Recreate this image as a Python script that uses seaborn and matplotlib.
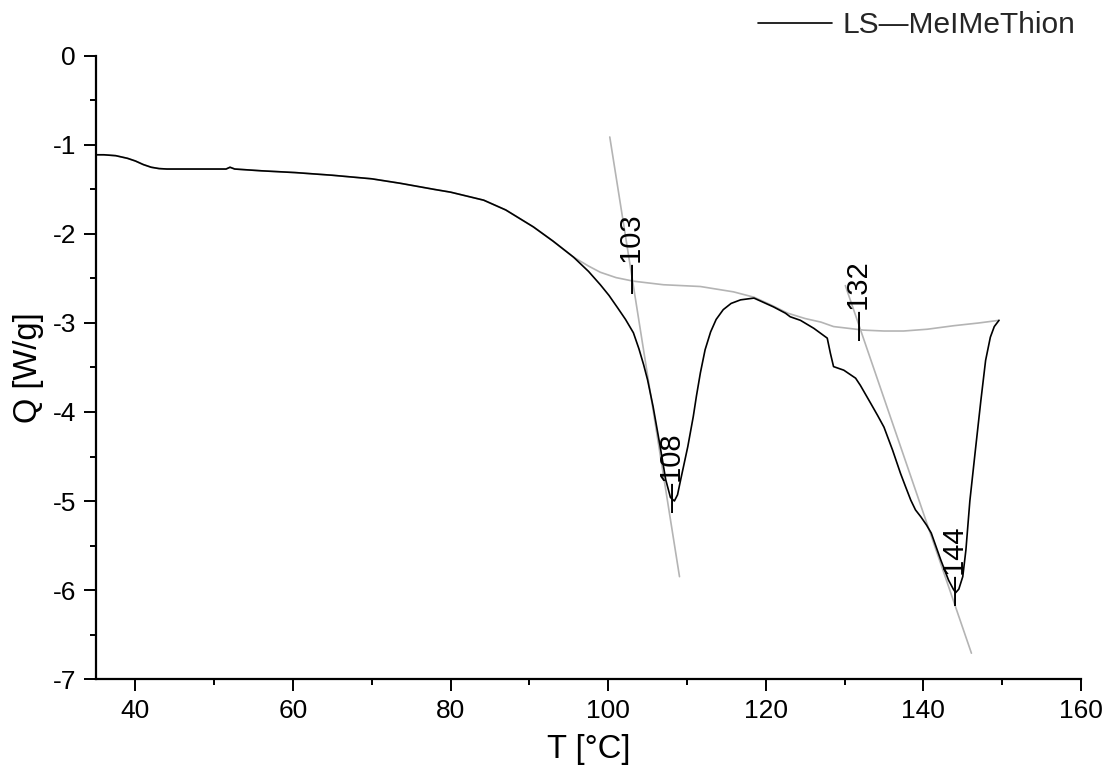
import pandas as pd
import matplotlib
import matplotlib.pyplot as plt
import seaborn as sns
from matplotlib.ticker import MultipleLocator

matplotlib.use("Agg")
sns.set_theme(style="ticks")
plt.rcParams["font.family"] = ["Liberation Sans", "DejaVu Sans"]
plt.rcParams["axes.unicode_minus"] = False

# DSC curve (measured)
temp = [35.0, 36.0, 37.5, 39.0, 40.0, 41.0, 42.0, 43.0, 44.0, 48.0, 51.5, 52.0,
        52.6, 56.0, 60.3, 65.0, 70.0, 73.6, 78.0, 80.0, 84.2, 87.0, 90.5, 93.0,
        95.6, 97.5, 99.0, 100.1, 101.2, 102.2, 103.2, 103.9, 104.5, 105.0, 105.7,
        106.6, 107.3, 107.9, 108.4, 108.8, 109.2, 110.1, 110.8, 111.2, 111.7,
        112.3, 113.0, 113.7, 114.6, 115.6, 116.8, 118.5, 121.0, 122.5, 123.1,
        124.4, 126.1, 127.8, 128.2, 128.6, 129.9, 131.4, 132.0, 133.3, 134.2,
        135.0, 136.1, 137.1, 137.7, 138.4, 139.0, 139.7, 140.4, 141.0, 142.2,
        143.2, 143.8, 144.1, 144.5, 145.0, 145.4, 145.9, 146.6, 147.3, 147.9,
        148.5, 149.0, 149.6]
heat = [-1.11, -1.11, -1.12, -1.15, -1.18, -1.22, -1.25, -1.265, -1.27, -1.27,
        -1.27, -1.25, -1.27, -1.29, -1.31, -1.34, -1.38, -1.43, -1.50, -1.53,
        -1.62, -1.73, -1.92, -2.08, -2.26, -2.42, -2.57, -2.69, -2.83, -2.96,
        -3.11, -3.29, -3.47, -3.64, -3.94, -4.39, -4.76, -4.96, -5.00, -4.93,
        -4.76, -4.39, -4.05, -3.82, -3.56, -3.30, -3.10, -2.96, -2.85, -2.78,
        -2.74, -2.72, -2.82, -2.89, -2.93, -2.97, -3.06, -3.17, -3.34, -3.49,
        -3.53, -3.62, -3.70, -3.90, -4.04, -4.17, -4.43, -4.69, -4.83, -4.99,
        -5.10, -5.18, -5.27, -5.36, -5.66, -5.89, -5.99, -6.03, -5.99, -5.85,
        -5.55, -5.00, -4.43, -3.87, -3.42, -3.16, -3.04, -2.97]

# Baseline (grey)
base_t = [35.0, 36.0, 37.5, 39.0, 40.0, 41.0, 42.0, 43.0, 44.0, 48.0, 51.5, 52.0,
          52.6, 56.0, 60.3, 65.0, 70.0, 73.6, 78.0, 80.0, 84.2, 87.0, 90.5, 93.0,
          95.6, 97.5, 99.0, 101.0, 103.2, 107.0, 111.7, 115.9, 118.5, 120.5,
          122.8, 125.0, 127.0, 128.6, 130.5, 132.4, 135.0, 137.5, 140.5, 143.9,
          147.0, 149.6]
base_q = [-1.11, -1.11, -1.12, -1.15, -1.18, -1.22, -1.25, -1.265, -1.27, -1.27,
          -1.27, -1.25, -1.27, -1.29, -1.31, -1.34, -1.38, -1.43, -1.50, -1.53,
          -1.62, -1.73, -1.92, -2.08, -2.26, -2.36, -2.43, -2.49, -2.53, -2.57,
          -2.59, -2.65, -2.71, -2.79, -2.89, -2.95, -2.99, -3.04, -3.06, -3.08,
          -3.09, -3.09, -3.07, -3.03, -3.00, -2.97]

# Tangent lines
tan1_t = [100.2, 109.05]
tan1_q = [-0.91, -5.85]
tan2_t = [130.1, 146.1]
tan2_q = [-2.58, -6.71]

# Peak labels
peak_t = [103.1, 108.2, 132.0, 144.1]
peak_q = [-2.66, -5.12, -3.19, -6.17]
peak_lbl = ["103", "108", "132", "144"]

fig = plt.figure(figsize=(11.13, 7.81), dpi=100)
ax = fig.add_axes([0.0863, 0.1306, 0.8849, 0.7977])

grey = "#b4b4b4"
sns.lineplot(x=base_t, y=base_q, sort=False, color=grey, lw=1.2, ax=ax)
sns.lineplot(x=tan1_t, y=tan1_q, sort=False, color=grey, lw=1.2, ax=ax)
sns.lineplot(x=tan2_t, y=tan2_q, sort=False, color=grey, lw=1.2, ax=ax)
sns.lineplot(x=temp, y=heat, sort=False, color="black", lw=1.2, ax=ax,
             label="LS\u2014MeIMeThion")

for t, q, s in zip(peak_t, peak_q, peak_lbl):
    ax.text(t, q, "\u2014" + s, rotation=90, ha="center", va="bottom",
            fontsize=21, color="black")

ax.set_xlim(35, 160)
ax.set_ylim(-7, 0)
ax.xaxis.set_major_locator(MultipleLocator(20))
ax.xaxis.set_minor_locator(MultipleLocator(10))
ax.yaxis.set_major_locator(MultipleLocator(1))
ax.yaxis.set_minor_locator(MultipleLocator(0.5))
ax.tick_params(which="major", direction="out", length=8.5, width=1.4, pad=6,
               labelsize=19, color="black", labelcolor="black")
ax.tick_params(which="minor", direction="out", length=4, width=1.4, color="black")
for side in ["top", "right"]:
    ax.spines[side].set_visible(False)
for side in ["left", "bottom"]:
    ax.spines[side].set_linewidth(1.6)
    ax.spines[side].set_color("black")

ax.set_xlabel("T [\u00b0C]", fontsize=23.5, color="black", labelpad=8)
ax.set_ylabel("Q [W/g]", fontsize=23.5, color="black", labelpad=6)

fig.legend(*ax.get_legend_handles_labels(), loc="center right",
           bbox_to_anchor=(0.966, 0.968), frameon=False, fontsize=21.5,
           handlelength=2.5, handletextpad=0.33, borderaxespad=0, borderpad=0)
ax.get_legend().remove()

fig.savefig("out.png", dpi=100)
plt.close()
